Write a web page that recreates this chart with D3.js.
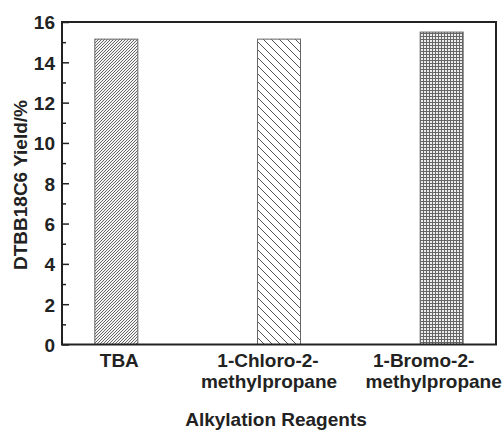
<!DOCTYPE html>
<html><head><meta charset="utf-8">
<script src="https://cdn.jsdelivr.net/npm/d3@7/dist/d3.min.js"></script>
<style>body{margin:0;background:#fff}svg{display:block}text{font-family:"Liberation Sans",Arial,sans-serif;font-weight:bold;fill:#222}</style>
</head><body>
<svg id="c" width="502" height="430"></svg>
<script>
const categories = ["TBA", "1-Chloro-2-\nmethylpropane", "1-Bromo-2-\nmethylpropane"];
const yields = [15.15, 15.15, 15.5];
const patterns = ["fwd", "back", "grid"];
const yMajor = [0, 2, 4, 6, 8, 10, 12, 14, 16];
const yMinor = [1, 3, 5, 7, 9, 11, 13, 15];
const yTitle = "DTBB18C6 Yield/%";
const xTitle = "Alkylation Reagents";

const svg = d3.select("#c");
const L = 62, R = 496, T = 22, B = 344.5;
const x = d3.scalePoint().domain(categories).range([L, R]).padding(0.334);
const y = d3.scaleLinear().domain([0, 16]).range([B, T]);
const barW = 43;
const FS = "19px";

const defs = svg.append("defs");
const pf = defs.append("pattern").attr("id","fwd").attr("patternUnits","userSpaceOnUse").attr("width",3).attr("height",3);
pf.append("rect").attr("width",3).attr("height",3).attr("fill","#f4f4f4");
pf.append("path").attr("d","M-1,1 L1,-1 M0,3 L3,0 M2,4 L4,2").attr("stroke","#666").attr("stroke-width",1);
const pb = defs.append("pattern").attr("id","back").attr("patternUnits","userSpaceOnUse").attr("width",8).attr("height",8);
pb.append("rect").attr("width",8).attr("height",8).attr("fill","#fff");
pb.append("path").attr("d","M-2,-2 L10,10 M-2,6 L2,10 M6,-2 L10,2").attr("stroke","#555").attr("stroke-width",1);
const pg = defs.append("pattern").attr("id","grid").attr("patternUnits","userSpaceOnUse").attr("width",3).attr("height",3);
pg.append("rect").attr("width",3).attr("height",3).attr("fill","#eee");
pg.append("path").attr("d","M0,0.5 H3 M0.5,0 V3").attr("stroke","#666").attr("stroke-width",1);

svg.selectAll("rect.bar").data(categories).enter().append("rect")
  .attr("class","bar")
  .attr("x", d => x(d) - barW/2)
  .attr("y", (d,i) => y(yields[i]))
  .attr("width", barW)
  .attr("height", (d,i) => B - y(yields[i]))
  .attr("fill", (d,i) => `url(#${patterns[i]})`)
  .attr("stroke","#666").attr("stroke-width",1);

// Y axis
const ya = svg.append("g").attr("transform",`translate(${L},0)`)
  .call(d3.axisLeft(y).tickValues(yMajor).tickSize(-7).tickPadding(7).tickFormat(d3.format("d")));
ya.select(".domain").remove();
ya.selectAll(".tick line").attr("stroke","#222").attr("stroke-width",1.5);
ya.selectAll(".tick text").style("font-size",FS).attr("fill","#222").attr("dy","0.36em");
const ym = svg.append("g").attr("transform",`translate(${L},0)`)
  .call(d3.axisLeft(y).tickValues(yMinor).tickSize(-4).tickFormat(""));
ym.select(".domain").remove();
ym.selectAll(".tick line").attr("stroke","#222").attr("stroke-width",1.5);

// X axis labels
const xa = svg.append("g").attr("transform",`translate(0,${B})`)
  .call(d3.axisBottom(x).tickSize(0).tickFormat(""));
xa.select(".domain").remove();
const labOff = [[3], [-11, -10], [-18, -8]];
categories.forEach((c, i) => {
  const lines = c.split("\n");
  lines.forEach((ln, j) => {
    svg.append("text").attr("x", x(c) + labOff[i][j]).attr("y", 367 + j*21)
      .attr("text-anchor","middle").style("font-size",FS).text(ln);
  });
});

// frame
svg.append("rect").attr("x",L).attr("y",T).attr("width",R-L).attr("height",B-T)
  .attr("fill","none").attr("stroke","#222").attr("stroke-width",2);

svg.append("text").attr("transform",`translate(27,185) rotate(-90)`)
  .attr("text-anchor","middle").style("font-size",FS).text(yTitle);
svg.append("text").attr("x",276).attr("y",426).attr("text-anchor","middle")
  .style("font-size",FS).text(xTitle);
</script>
</body></html>
